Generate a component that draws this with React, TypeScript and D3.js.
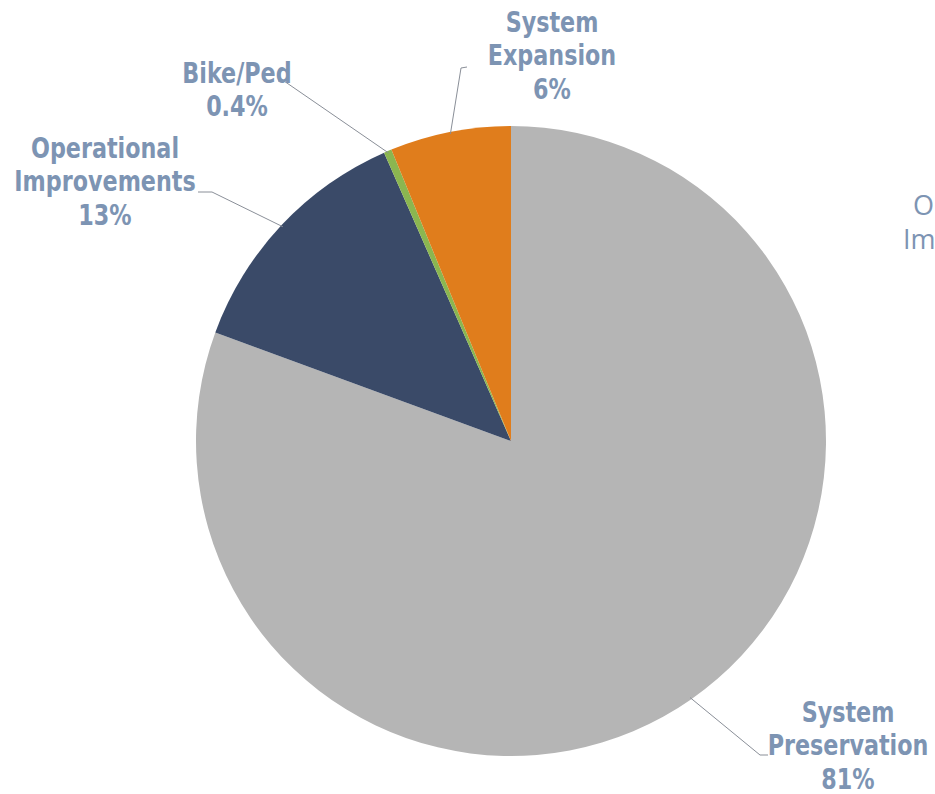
import React from "react";
import * as d3 from "d3";

const categories = ["System Preservation", "Operational Improvements", "Bike/Ped", "System Expansion"];
const values = [80.6, 12.8, 0.4, 6.2];
const labelLines = [["System", "Preservation", "81%"], ["Operational", "Improvements", "13%"], ["Bike/Ped", "0.4%"], ["System", "Expansion", "6%"]];
const colors = ["#b5b5b5", "#3a4a68", "#8bb650", "#e07d1c"];

const W = 935, H = 794;
const cx = 511, cy = 441, R = 315;
const textColor = "#7d94b3";
const font = "'Liberation Sans Narrow', 'DejaVu Sans Condensed', sans-serif";

const labelPos = [
  { x: 848, y: 722, stub: [768, 755], stubEnd: [760, 755] },
  { x: 105, y: 158, stub: [198, 192], stubEnd: [212, 192] },
  { x: 237, y: 83, stub: [278, 81], stubEnd: [284, 81] },
  { x: 552, y: 32, stub: [467, 67], stubEnd: [461, 68] },
];

export default function App() {
  const pie = d3.pie<number>().sort(null).value((d) => d);
  const arcs = pie(values);
  const arc = d3.arc<d3.PieArcDatum<number>>().innerRadius(0).outerRadius(R);
  const lineH = 33.5;
  const sx = 0.9;
  return (
    <svg width={W} height={H} style={{ position: "absolute", left: 0, top: 0, background: "#fff" }}>
      <g transform={`translate(${cx},${cy})`}>
        {arcs.map((a, i) => (
          <path key={i} d={arc(a) || ""} fill={colors[i]} />
        ))}
      </g>
      {arcs.map((a, i) => {
        const mid = (a.startAngle + a.endAngle) / 2;
        const ex = cx + Math.sin(mid) * (R - 2);
        const ey = cy - Math.cos(mid) * (R - 2);
        const p = labelPos[i];
        return (
          <polyline
            key={"l" + i}
            points={`${p.stub[0]},${p.stub[1]} ${p.stubEnd[0]},${p.stubEnd[1]} ${ex},${ey}`}
            fill="none"
            stroke="#8a8f98"
            strokeWidth={1}
          />
        );
      })}
      {labelLines.map((lines, i) => (
        <text
          key={"t" + i}
          transform={`translate(${labelPos[i].x},${labelPos[i].y}) scale(${sx},1)`}
          textAnchor="middle"
          fill={textColor}
          fontFamily={font}
          fontWeight="bold"
          fontSize={27.5}
        >
          {lines.map((s, j) => (
            <tspan key={j} x={0} dy={j === 0 ? 0 : lineH}>
              {s}
            </tspan>
          ))}
        </text>
      ))}
      <text x={913} y={215} fill={textColor} fontFamily="'Open Sans', sans-serif" fontSize={27}>
        Operational
      </text>
      <text x={903} y={249} fill={textColor} fontFamily="'Open Sans', sans-serif" fontSize={27}>
        Improvements
      </text>
    </svg>
  );
}
